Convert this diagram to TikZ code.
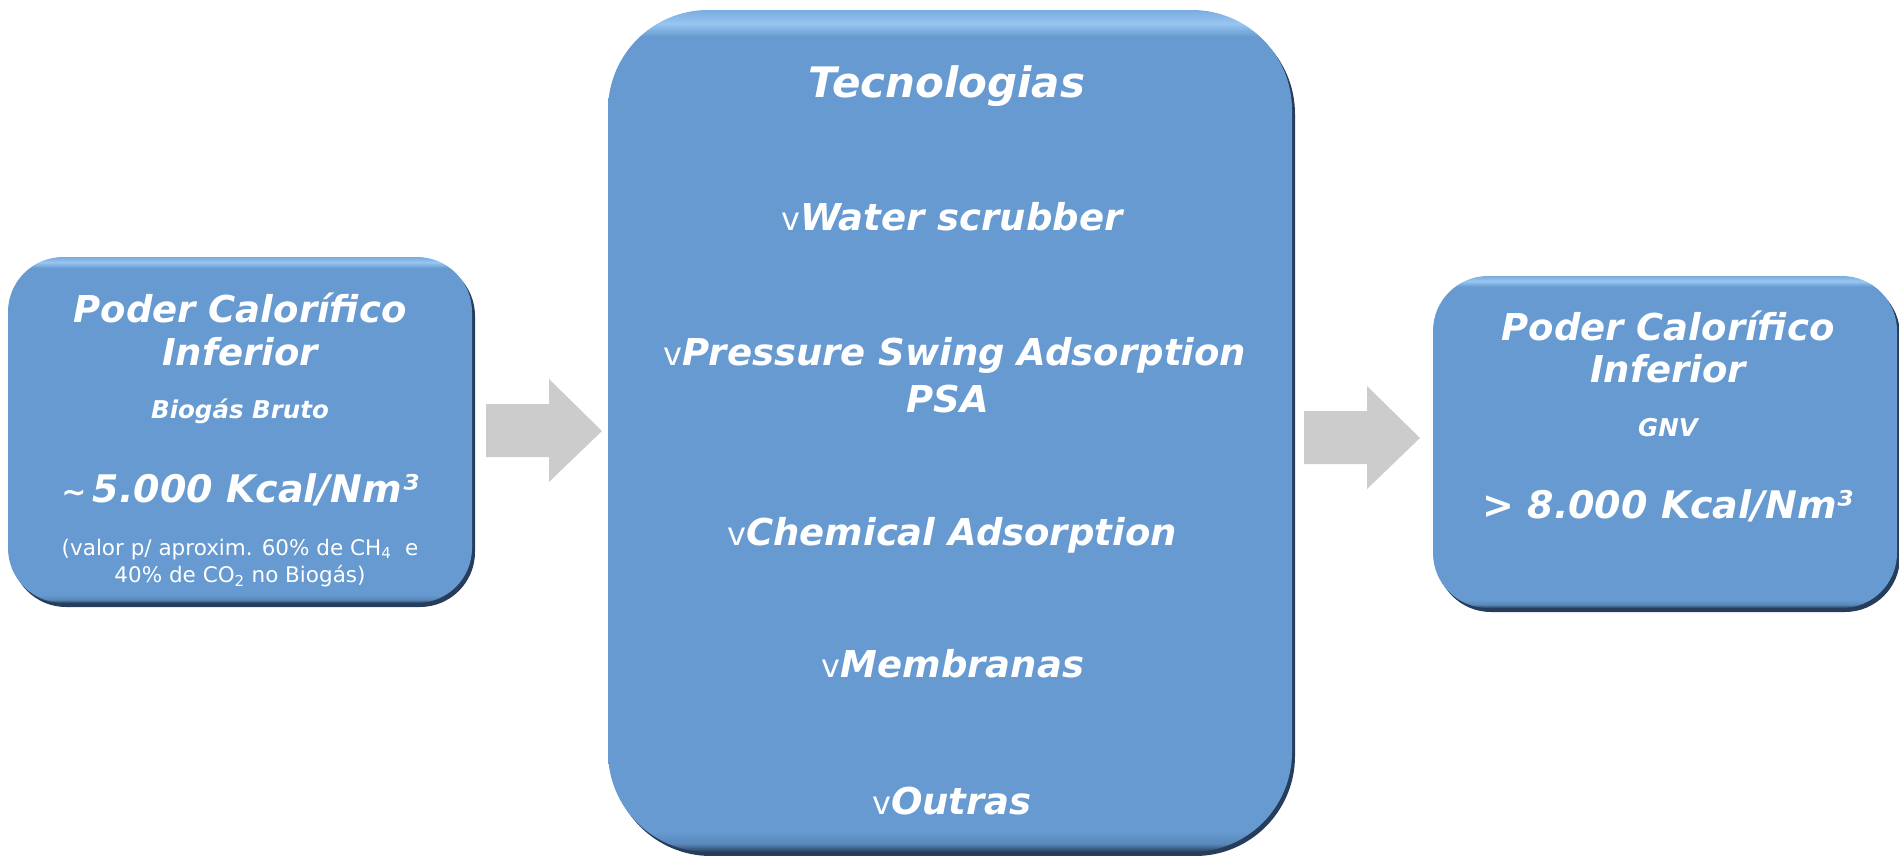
\documentclass[tikz,border=0pt]{standalone}
\usepackage{fontspec}
\setmainfont{DejaVu Sans}
\usepackage{tikz}
\definecolor{boxblue}{RGB}{102,154,208}
\definecolor{boxlight}{RGB}{152,198,242}
\definecolor{boxdark}{RGB}{38,62,92}
\definecolor{setacinza}{RGB}{204,204,204}
\pgfdeclareverticalshading{bevel}{100bp}{color(0bp)=(boxdark); color(25bp)=(boxdark); color(25.5bp)=(boxblue!80!boxdark); color(26.2bp)=(boxblue); color(73.4bp)=(boxblue); color(74.2bp)=(boxlight); color(75bp)=(boxblue!60!boxlight); color(100bp)=(boxblue!60!boxlight)}
\newcommand{\chk}{{\mdseries\upshape\fontsize{32}{32}\selectfont v}}
\newcommand{\seta}[1]{\fill[setacinza] (#1) ++(0,27) -- ++(63,0) -- ++(0,25) -- ++(53,-52) -- ++(-53,-51) -- ++(0,25) -- ++(-63,0) -- cycle;}

\begin{document}
\begin{tikzpicture}[x=1pt,y=1pt]
\tikzstyle{caixa}=[rounded corners=55, inner sep=0, shading=bevel, preaction={fill=boxdark, transform canvas={xshift=3pt,yshift=-4pt}}]
\tikzstyle{grande}=[text=white, inner sep=0, anchor=base, font=\fontsize{37}{44}\selectfont\bfseries\itshape]
\tikzstyle{titulo}=[grande, font=\fontsize{42}{50}\selectfont\bfseries\itshape]
\tikzstyle{valor}=[grande, font=\fontsize{38}{44}\selectfont\bfseries\itshape]
\tikzstyle{medio}=[grande, font=\fontsize{24.5}{29}\selectfont\bfseries\itshape]
\tikzstyle{nota}=[grande, font=\fontsize{21.5}{25}\selectfont]
\useasboundingbox (0,0) rectangle (1899,-855);

\node[caixa, minimum width=464, minimum height=346] (bruto) at (240,-430) {};
\node[caixa, minimum width=684, minimum height=842, rounded corners=100] (tec) at (950,-431) {};
\node[caixa, minimum width=464, minimum height=332] (gnv) at (1665,-442) {};

\node[grande] (b1) at (240,-322) {Poder Calorífico};
\node[grande] (b2) at (240,-365) {Inferior};
\node[medio] (b3) at (240,-418) {Biogás Bruto};
\node[valor] (b4) at (240,-502) {{\fontsize{30}{30}\selectfont\textasciitilde}\,5.000 Kcal/Nm³};
\node[nota] (b5) at (240,-555) {(valor p/ aproxim. 60\% de CH\textsubscript{4}\ \ e};
\node[nota] (b6) at (240,-582) {40\% de CO\textsubscript{2} no Biogás)};

\node[titulo] (t0) at (947,-97) {Tecnologias};
\node[grande] (t1) at (952,-230) {\chk Water scrubber};
\node[grande] (t2) at (955,-365) {\chk Pressure Swing Adsorption};
\node[grande] (t3) at (948,-412) {PSA};
\node[grande] (t4) at (952,-545) {\chk Chemical Adsorption};
\node[grande] (t5) at (953,-677) {\chk Membranas};
\node[grande] (t6) at (952,-814) {\chk Outras};

\node[grande] (g1) at (1668,-340) {Poder Calorífico};
\node[grande] (g2) at (1668,-382) {Inferior};
\node[medio] (g3) at (1668,-436) {GNV};
\node[valor] (g4) at (1668,-518) {> 8.000 Kcal/Nm³};

\coordinate (s1) at (486,-431);
\coordinate (s2) at (1304,-438);
\seta{s1}
\seta{s2}
\end{tikzpicture}
\end{document}
